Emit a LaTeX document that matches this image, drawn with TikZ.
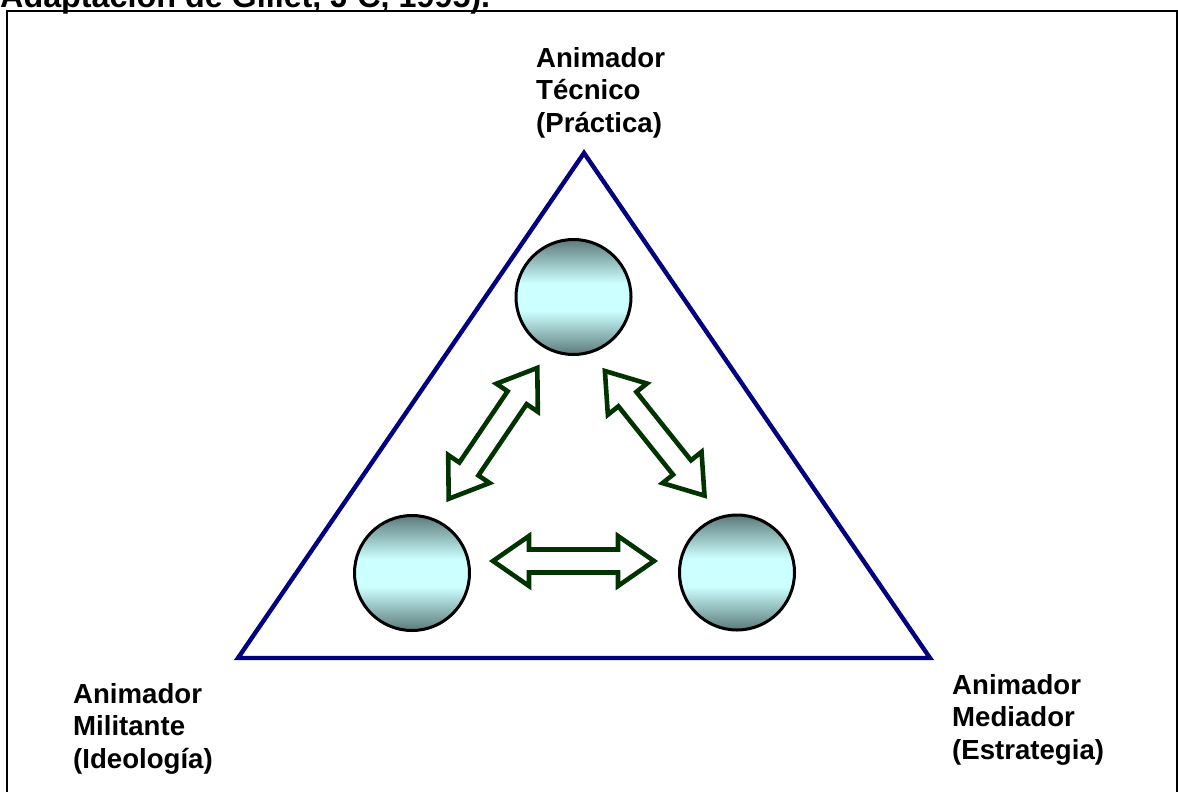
\documentclass[tikz,border=0pt]{standalone}
\usepackage{fontspec}
\setmainfont{Liberation Sans}
\usetikzlibrary{calc}
\definecolor{navyline}{RGB}{0,0,128}
\definecolor{arrowgreen}{RGB}{0,51,0}
\definecolor{balldark}{RGB}{92,122,122}
\definecolor{balllight}{RGB}{204,255,255}
\pgfdeclareverticalshading{ballshade}{100bp}{color(0bp)=(balldark); color(25bp)=(balldark); color(44bp)=(balllight); color(56bp)=(balllight); color(75bp)=(balldark); color(100bp)=(balldark)}
\tikzset{
  lbl/.style={anchor=north west, inner sep=0pt, align=left,
    font=\bfseries\fontsize{27.6}{32.5}\selectfont},
  ball/.style={circle, draw=black, line width=3pt, minimum size=115pt,
    inner sep=0pt, shading=ballshade},
  blockarrow/.style={draw=arrowgreen, fill=white, line width=4.6pt, line join=miter},
  tri/.style={draw=navyline, line width=4.4pt, line join=miter},
  frame/.style={draw=black, line width=2pt}
}
\newcommand{\dblblock}[2]{%
  \coordinate (da) at ($(#1)!36pt!(#2)$);
  \coordinate (db) at ($(#2)!36pt!(#1)$);
  \draw[blockarrow] (#1) -- ($(da)!25pt!90:(#2)$) -- ($(da)!11.5pt!90:(#2)$)
    -- ($(db)!11.5pt!-90:(#1)$) -- ($(db)!25pt!-90:(#1)$) -- (#2)
    -- ($(db)!25pt!90:(#1)$) -- ($(db)!11.5pt!90:(#1)$)
    -- ($(da)!11.5pt!-90:(#2)$) -- ($(da)!25pt!-90:(#2)$) -- cycle;}
\begin{document}
\begin{tikzpicture}[x=1pt,y=-1pt]
\useasboundingbox (0,0) rectangle (1178,792);
\clip (0,0) rectangle (1178,792);
\fill[white] (0,0) rectangle (1178,792);
% header (cut off at the top)
\node[anchor=base west, inner sep=0pt, font=\bfseries\fontsize{32.3}{38}\selectfont] (hdr) at (0,7.5) {Adaptación de Gillet, J C, 1995).};
% frame
\draw[frame] (7,11.5) rectangle (1176.5,810);
% triangle
\coordinate (apex) at (584,153);
\coordinate (bl) at (238,658);
\coordinate (br) at (930,658);
\draw[tri] (apex) -- (br) -- (bl) -- cycle;
% balls
\node[ball] (ct) at (573.5,297) {};
\node[ball] (cl) at (412,573) {};
\node[ball] (cr) at (737,572.5) {};
% arrow tips
\coordinate (h1) at (493,561);
\coordinate (h2) at (654,561);
\coordinate (l1) at (448.7,498.8);
\coordinate (l2) at (537.3,367.9);
\coordinate (r1) at (604.9,371);
\coordinate (r2) at (704.5,495.6);
\dblblock{h1}{h2}
\dblblock{l1}{l2}
\dblblock{r1}{r2}
% labels
\node[lbl] (lt) at (536,47) {Animador\\Técnico\\(Práctica)};
\node[lbl] (ll) at (73,683) {Animador\\Militante\\(Ideología)};
\node[lbl] (lr) at (952,674) {Animador\\Mediador\\(Estrategia)};
\end{tikzpicture}
\end{document}
